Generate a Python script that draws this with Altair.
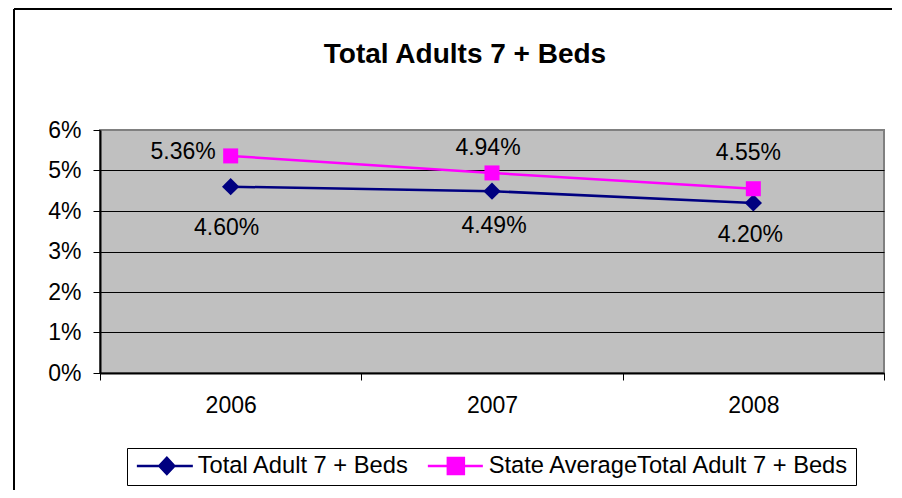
import altair as alt
import pandas as pd

years = [2006, 2007, 2008]
series_names = ["Total Adult 7 + Beds", "State AverageTotal Adult 7 + Beds"]
total_values = [0.0460, 0.0449, 0.0420]
state_values = [0.0536, 0.0494, 0.0455]
y_ticks = [0, 0.01, 0.02, 0.03, 0.04, 0.05, 0.06]
x_bounds = [2005.5, 2006.5, 2007.5, 2008.5]
colors = ["#000080", "#FF00FF"]
title_text = "Total Adults 7 + Beds"

rows = []
for yr, v in zip(years, total_values):
    rows.append({"year": yr, "value": v, "series": series_names[0]})
for yr, v in zip(years, state_values):
    rows.append({"year": yr, "value": v, "series": series_names[1]})
df = pd.DataFrame(rows)

FONT = "Liberation Sans"

x_enc = alt.X(
    "year:Q",
    scale=alt.Scale(domain=[x_bounds[0], x_bounds[-1]], nice=False, zero=False),
    axis=alt.Axis(
        values=x_bounds,
        labelExpr="datum.value < 2008 ? toString(datum.value + 0.5) : ''",
        labelOffset=130.67, labelFlush=False, labelOverlap=False, labelBound=False,
        tickSize=7, tickColor="black", tickWidth=1, domainColor="black", domainWidth=2,
        grid=False, labelFont=FONT, labelFontSize=23, labelColor="black", labelPadding=14, title=None,
    ),
)
y_enc = alt.Y(
    "value:Q",
    scale=alt.Scale(domain=[0, 0.06], nice=False, zero=True),
    axis=alt.Axis(
        values=y_ticks, format=".0%", tickSize=7, tickColor="black", tickWidth=1,
        domainColor="black", domainWidth=2, grid=True,
        gridColor={"condition": {"test": "datum.value >= 0.06", "value": "#808080"}, "value": "black"},
        gridWidth=1, labelFont=FONT, labelFontSize=23, labelColor="black", labelPadding=12, title=None,
    ),
)
color_scale = alt.Scale(domain=series_names, range=colors)

legend_paths = [
    "M-1,0H4.6M1.25,0L2,-0.8L2.75,0L2,0.8Z",
    "M-1,0H4.5M1,-0.8H2.6V0.8H1Z",
]
leg = alt.Legend(
    orient="none", legendX=27, legendY=318, direction="horizontal", title=None,
    labelFont=FONT, labelFontSize=23.7, labelColor="black", labelLimit=600,
    symbolSize=400, symbolStrokeWidth=2.5, symbolOffset=2, labelOffset=39, columnPadding=12,
    padding=6, strokeColor="black", fillColor="white", symbolOpacity=1,
)

base = alt.Chart(df)

lines = base.mark_line(strokeWidth=2.5).encode(
    x=x_enc, y=y_enc, color=alt.Color("series:N", scale=color_scale, legend=leg)
)
diamonds = base.transform_filter(alt.datum.series == series_names[0]).mark_point(
    shape="diamond", filled=True, size=300, opacity=1
).encode(x=x_enc, y=y_enc, color=alt.Color("series:N", scale=color_scale, legend=None))
squares = base.transform_filter(alt.datum.series == series_names[1]).mark_point(
    shape="square", filled=True, size=225, opacity=1
).encode(x=x_enc, y=y_enc, color=alt.Color("series:N", scale=color_scale, legend=None))

label_style = {
    (series_names[1], 2006): (-15, -4, "right"),
    (series_names[1], 2007): (-4, -25, "center"),
    (series_names[1], 2008): (-5, -36, "center"),
    (series_names[0], 2006): (-4, 41, "center"),
    (series_names[0], 2007): (2, 35, "center"),
    (series_names[0], 2008): (-3, 32, "center"),
}
label_layers = []
for (s, yr), (dx, dy, al) in label_style.items():
    label_layers.append(
        base.transform_filter((alt.datum.series == s) & (alt.datum.year == yr))
        .mark_text(dx=dx, dy=dy, align=al, baseline="middle", font=FONT, fontSize=23, color="black")
        .encode(x=x_enc, y=y_enc, text=alt.Text("value:Q", format=".2%"))
    )

legend_data = alt.Data(values=[{"series": s} for s in series_names])
legend_layer = alt.Chart(legend_data).mark_point(
    filled=True, opacity=1, strokeWidth=2.5
).encode(
    x=alt.value(-3000),
    y=alt.value(-3000),
    fill=alt.Fill("series:N", scale=alt.Scale(domain=series_names, range=colors), legend=leg),
    shape=alt.Shape("series:N", scale=alt.Scale(domain=series_names, range=legend_paths), legend=leg),
)

single = alt.Data(values=[{"t": title_text}])
title_layer = alt.Chart(single).mark_text(
    font=FONT, fontSize=28, fontWeight="bold", color="black", align="center", baseline="alphabetic"
).encode(text="t:N", x=alt.value(365), y=alt.value(-67))

frame_top = alt.Chart(single).mark_rule(color="black", strokeWidth=2).encode(
    x=alt.value(-86), x2=alt.value(800), y=alt.value(-121)
)
frame_left = alt.Chart(single).mark_rule(color="black", strokeWidth=2).encode(
    x=alt.value(-86), y=alt.value(-121), y2=alt.value(360)
)

chart = alt.layer(
    frame_top, frame_left, title_layer, lines, diamonds, squares, *label_layers, legend_layer
).properties(
    width=784, height=243,
    autosize=alt.AutoSizeParams(type="none"),
    padding={"left": 92, "top": 122, "right": 8, "bottom": 117},
    background="white",
).configure_view(fill="#C0C0C0", stroke="#808080", strokeWidth=2)

chart.save("out.html", embed_options={"renderer": "svg", "actions": False})
